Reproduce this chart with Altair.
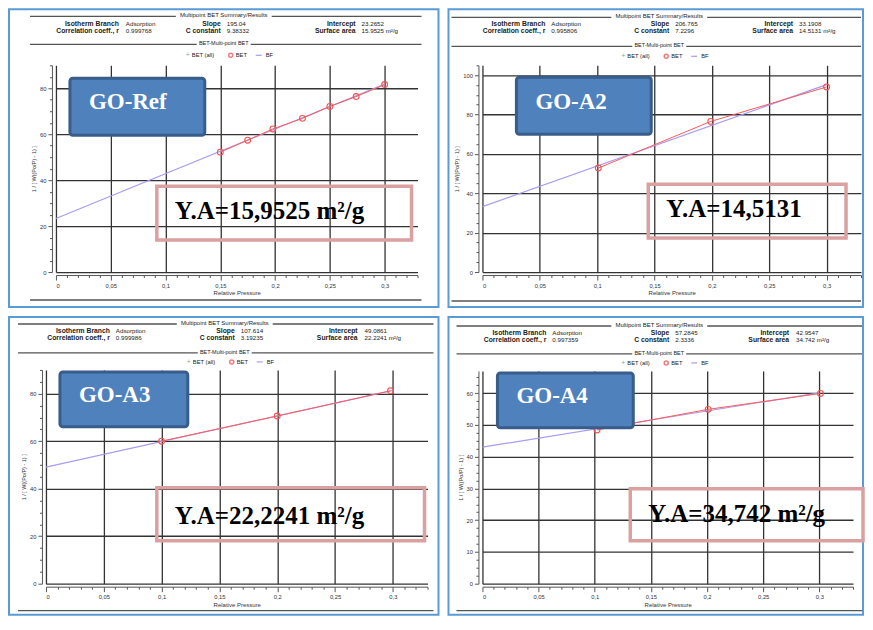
import altair as alt
import pandas as pd

# ---------------- data ----------------
sample_names = ["GO-Ref", "GO-A2", "GO-A3", "GO-A4"]
surface_labels = ["Y.A=15,9525 m²/g", "Y.A=14,5131", "Y.A=22,2241 m²/g", "Y.A=34,742 m²/g"]

bet_p_ref = [0.15, 0.175, 0.198, 0.225, 0.25, 0.274, 0.3]
bet_v_ref = [52.2, 57.4, 62.3, 66.9, 72.1, 76.4, 81.6]
bet_p_a2 = [0.101, 0.199, 0.3]
bet_v_a2 = [52.8, 76.5, 94.0]
bet_p_a3 = [0.1, 0.2, 0.298]
bet_v_a3 = [60.0, 70.6, 81.2]
bet_p_a4 = [0.102, 0.201, 0.301]
bet_v_a4 = [48.4, 54.9, 59.9]

bf_p = [0.0, 0.3]
bf_v_ref = [23.3, 81.8]
bf_v_a2 = [33.2, 95.2]
bf_v_a3 = [49.1, 81.4]
bf_v_a4 = [43.0, 60.1]

isotherm_branch = ["Adsorption", "Adsorption", "Adsorption", "Adsorption"]
corr_coeff = ["0.999768", "0.995806", "0.999986", "0.997359"]
slope = ["195.04", "206.765", "107.614", "57.2845"]
c_constant = ["9.38332", "7.2296", "3.19235", "2.3336"]
intercept = ["23.2652", "33.1908", "49.0861", "42.9547"]
surface_area = ["15.9525 m²/g", "14.5131 m²/g", "22.2241 m²/g", "34.742 m²/g"]

x_ticks = [0, 0.05, 0.1, 0.15, 0.2, 0.25, 0.3]
y_ticks = [[0, 20, 40, 60, 80], [0, 20, 40, 60, 80, 100], [0, 20, 40, 60, 80], [0, 10, 20, 30, 40, 50, 60]]
y_max = [90, 105, 90, 67]
y_minor_step = [5, 5, 5, 2.5]
x_max = 0.33

bet_p = [bet_p_ref, bet_p_a2, bet_p_a3, bet_p_a4]
bet_v = [bet_v_ref, bet_v_a2, bet_v_a3, bet_v_a4]
bf_v = [bf_v_ref, bf_v_a2, bf_v_a3, bf_v_a4]

# ---------------- layout (panel geometry) ----------------
# L: border -> view origin, sx: x=0 offset from origin, Wd: pixel length of x domain
GEOM = [
    dict(PW=432, PH=300, L=48, sx=0, T=57, Wd=362, H=207, cx=216, lx0=22, lx1=414,
         cols=[(111, 118), (213, 219), (348, 354)], ys=(7, 16, 22.5, 35, 47), bot=292,
         blue=(14, 149, 13, 70), bt=(33, 44), red=(101, 356, 121, 175), rt=(119, 154)),
    dict(PW=417, PH=300, L=35, sx=0, T=57, Wd=379, H=207, cx=212, lx0=4, lx1=414,
         cols=[(98, 104), (222, 228), (346, 352)], ys=(8, 16, 23, 37, 48), bot=293,
         blue=(34, 169, 12, 69), bt=(53, 44), red=(166, 364, 119, 173), rt=(184, 152)),
    dict(PW=432, PH=300, L=48, sx=-10, T=54, Wd=382, H=214, cx=217, lx0=10, lx1=426,
         cols=[(102, 108), (227, 233), (350, 357)], ys=(7, 15, 22, 36, 46), bot=295,
         blue=(14, 142, 2, 57), bt=(33, 32), red=(111, 379, 118, 171), rt=(129, 154)),
    dict(PW=417, PH=300, L=35, sx=0, T=55, Wd=371, H=213, cx=212, lx0=9, lx1=415,
         cols=[(99, 105), (222, 228), (342, 349)], ys=(9, 17.5, 24.5, 37, 47), bot=295,
         blue=(15, 151, 2, 57), bt=(34, 32), red=(148, 381, 118, 170), rt=(166, 151)),
]

BORDER = "#5B9BD5"
GRID = "#333333"
AX = "#555555"
SANS = "Liberation Sans"
SERIF = "Liberation Serif"
ONE = pd.DataFrame({"k": [0]})


def txt(s, x, y, size, weight="normal", align="left", color="#222222", font=SANS, baseline="middle"):
    return alt.Chart(ONE).mark_text(text=s, fontSize=size, fontWeight=weight, align=align,
                                    baseline=baseline, color=color, font=font).encode(
        x=alt.value(x), y=alt.value(y))


def hline(x0, x1, y, color="#555555", width=1.3):
    return alt.Chart(ONE).mark_rule(color=color, strokeWidth=width).encode(
        x=alt.value(x0), x2=alt.value(x1), y=alt.value(y))


def box(x0, x1, y0, y1, **kw):
    return alt.Chart(ONE).mark_rect(**kw).encode(
        x=alt.value(x0), x2=alt.value(x1), y=alt.value(y0), y2=alt.value(y1))


def panel(i):
    g = GEOM[i]
    L, T, H, PW, PH, sx, Wd = g["L"], g["T"], g["H"], g["PW"], g["PH"], g["sx"], g["Wd"]
    W = Wd + sx

    def X(v):
        return v - L

    def Y(v):
        return v - T

    layers = []
    # panel border
    layers.append(box(X(1), X(PW - 1), Y(1), Y(PH - 1), fillOpacity=0, stroke=BORDER, strokeWidth=2))

    # header
    y_t, y_r1, y_r2, y_s, y_l = g["ys"]
    cx = g["cx"]
    layers.append(hline(X(g["lx0"]), X(cx - 48), Y(y_t + 1)))
    layers.append(hline(X(cx + 48), X(g["lx1"]), Y(y_t + 1)))
    layers.append(txt("Multipoint BET Summary/Results", X(cx), Y(y_t), 6, align="center"))
    (c1l, c1v), (c2l, c2v), (c3l, c3v) = g["cols"]
    rows = [
        (y_r1, "Isotherm Branch", isotherm_branch[i], "Slope", slope[i], "Intercept", intercept[i]),
        (y_r2, "Correlation coeff., r", corr_coeff[i], "C constant", c_constant[i], "Surface area", surface_area[i]),
    ]
    for yy, a, av, b, bv, c, cv in rows:
        layers.append(txt(a, X(c1l), Y(yy), 6.8, weight="bold", align="right"))
        layers.append(txt(av, X(c1v), Y(yy), 6.2))
        layers.append(txt(b, X(c2l), Y(yy), 6.8, weight="bold", align="right"))
        layers.append(txt(bv, X(c2v), Y(yy), 6.2))
        layers.append(txt(c, X(c3l), Y(yy), 6.8, weight="bold", align="right"))
        layers.append(txt(cv, X(c3v), Y(yy), 6.2))
    layers.append(hline(X(g["lx0"]), X(cx - 27), Y(y_s + 1)))
    layers.append(hline(X(cx + 27), X(g["lx1"]), Y(y_s + 1)))
    layers.append(txt("BET-Multi-point BET", X(cx), Y(y_s), 5.5, align="center"))
    # legend
    layers.append(txt("+", X(cx - 36), Y(y_l), 7, color="#7FAF7F", align="center"))
    layers.append(txt("BET (all)", X(cx - 32), Y(y_l), 5.8))
    layers.append(alt.Chart(ONE).mark_point(shape="circle", filled=False, color="#F04848", size=16,
                                            strokeWidth=1.6).encode(x=alt.value(X(cx + 7)), y=alt.value(Y(y_l))))
    layers.append(txt("BET", X(cx + 12), Y(y_l), 5.8))
    layers.append(hline(X(cx + 32), X(cx + 38), Y(y_l), color="#A99CF0", width=1.2))
    layers.append(txt("BF", X(cx + 42), Y(y_l), 5.8))
    # bottom separator
    layers.append(hline(X(g["lx0"]), X(g["lx1"]), Y(g["bot"])))

    # data layers
    xs = alt.Scale(domain=[0, x_max], range=[sx, sx + Wd], nice=False, zero=False)
    ys = alt.Scale(domain=[0, y_max[i]], nice=False, zero=False)
    bf = pd.DataFrame({"p": bf_p, "v": bf_v[i]})
    bet = pd.DataFrame({"p": bet_p[i], "v": bet_v[i]})

    main_x = alt.Axis(values=x_ticks, labelExpr="replace(format(datum.value, '.2~f'), '.', ',')",
                      grid=True, gridColor=GRID, gridWidth=1.3, domainColor=AX, domainWidth=1,
                      tickColor=AX, tickSize=5, offset=3, labelFontSize=5.8, labelColor="#333333",
                      labelFont=SANS, labelPadding=2, titleFont=SANS, titleFontSize=6,
                      titleFontWeight="normal", titleColor="#333333", titlePadding=2, orient="bottom")
    main_y = alt.Axis(values=y_ticks[i], grid=True, gridColor=GRID, gridWidth=1.3, domainColor=AX,
                      domainWidth=1, tickColor=AX, tickSize=4, offset=4 - sx, labelFontSize=5.8,
                      labelColor="#333333", labelFont=SANS, labelPadding=2, titleFont=SANS,
                      titleFontSize=5.5, titleFontWeight="normal", titleColor="#333333",
                      titlePadding=3, orient="left")
    xmin_vals = [round(0.01 * k, 2) for k in range(34) if k % 5]
    ystep = y_minor_step[i]
    ymin_vals = []
    k = 0
    while k * ystep <= y_max[i]:
        v = k * ystep
        if v not in y_ticks[i]:
            ymin_vals.append(v)
        k += 1
    minor_x = alt.Axis(values=xmin_vals, labels=False, grid=False, domain=False, tickColor=AX,
                       tickSize=2.5, offset=3, orient="bottom")
    minor_y = alt.Axis(values=ymin_vals, labels=False, grid=False, domain=False, tickColor=AX,
                       tickSize=2.5, offset=4 - sx, orient="left")

    layers.append(alt.Chart(bf).mark_line(color="#A99CF0", strokeWidth=1.2).encode(
        x=alt.X("p:Q", scale=xs, axis=main_x, title="Relative Pressure"),
        y=alt.Y("v:Q", scale=ys, axis=main_y, title="1 / [ W((Po/P) - 1) ]")))
    layers.append(alt.Chart(bet).mark_point(opacity=0).encode(
        x=alt.X("p:Q", scale=xs, axis=minor_x, title=None),
        y=alt.Y("v:Q", scale=ys, axis=minor_y, title=None)))
    layers.append(alt.Chart(bet).mark_line(color="#FF5A5A", strokeWidth=1).encode(
        x=alt.X("p:Q", scale=xs, axis=None), y=alt.Y("v:Q", scale=ys, axis=None)))
    layers.append(alt.Chart(bet).mark_point(shape="circle", filled=False, color="#F25555", size=34,
                                            strokeWidth=1.1, opacity=1).encode(
        x=alt.X("p:Q", scale=xs, axis=None), y=alt.Y("v:Q", scale=ys, axis=None)))

    # annotation boxes (x given relative to the x=0 pixel)
    bx0, bx1, by0, by1 = g["blue"]
    layers.append(box(bx0 + sx, bx1 + sx, by0, by1, fill="#4F81BD", stroke="#385D8A", strokeWidth=3,
                      cornerRadius=3))
    layers.append(txt(sample_names[i], g["bt"][0] + sx, g["bt"][1], 23, weight="bold", color="white",
                      font=SERIF, baseline="alphabetic"))
    rx0, rx1, ry0, ry1 = g["red"]
    layers.append(box(rx0 + sx, rx1 + sx, ry0, ry1, fillOpacity=0, stroke="#DBA0A0", strokeWidth=3.5))
    layers.append(txt(surface_labels[i], g["rt"][0] + sx, g["rt"][1], 25, weight="bold", color="black",
                      font=SERIF, baseline="alphabetic"))

    return alt.layer(*layers).properties(width=W, height=H).resolve_axis(x="independent", y="independent")


chart = alt.ConcatChart(
    concat=[panel(0), panel(1), panel(2), panel(3)],
    columns=2, spacing=8, align="none", bounds="full",
).properties(padding=0, background="white").configure_view(strokeWidth=0)

chart.save("out.html", embed_options={"renderer": "svg", "actions": False})
